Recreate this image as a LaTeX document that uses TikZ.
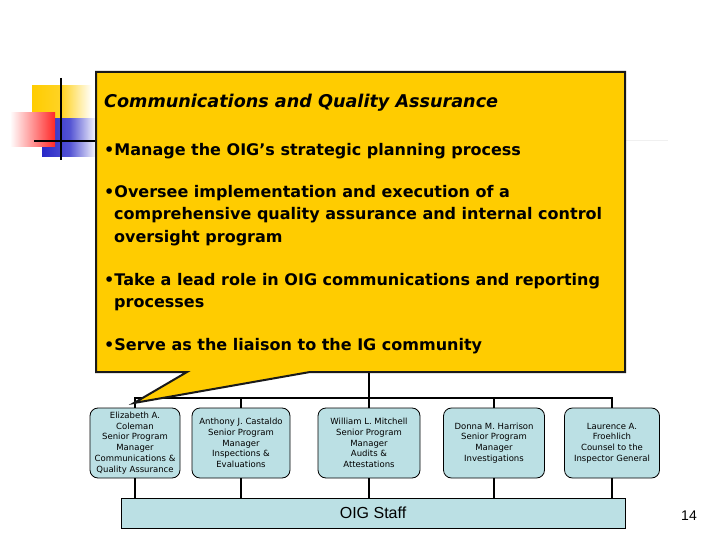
\documentclass[tikz,border=0pt]{standalone}
\usepackage{fontspec}
\setmainfont{DejaVu Sans}
\newfontfamily\arialf{Liberation Sans}
\definecolor{calloutyellow}{RGB}{255,204,0}
\definecolor{boxblue}{RGB}{187,224,228}
\definecolor{decored}{RGB}{255,40,40}
\definecolor{decoblue}{RGB}{40,40,200}
\begin{document}
\begin{tikzpicture}[x=1pt,y=-1pt,
  orgline/.style={line width=2.6pt, black},
  person/.style={draw=black, line width=0.8pt, fill=boxblue, rounded corners=8pt,
    minimum height=70pt, align=center, inner sep=1pt, font=\fontsize{8.5}{10.8}\selectfont},
  bullet/.style={anchor=base west, inner sep=0pt, font=\bfseries\fontsize{16}{22}\selectfont, align=left},
  ]
\useasboundingbox (0,0) rectangle (720,540);
% decoration
\draw[gray!12, line width=1pt] (34,141) -- (668,141);
\shade[left color=calloutyellow, right color=white, middle color=calloutyellow!85] (32,86) rectangle (92,120);
\shade[left color=decoblue, right color=white, middle color=decoblue!80] (42,119) rectangle (97,157);
\shade[left color=white, right color=decored] (10,113) rectangle (55,147);
\draw[black, line width=2pt] (61,78) -- (61,160);
\draw[black, line width=2pt] (34,141) -- (96,141);
% org boxes
\node[person, minimum width=90pt] (cole) at (135,443) {Elizabeth A.\\Coleman\\Senior Program\\Manager\\Communications \&\\Quality Assurance};
\node[person, minimum width=98pt] (cast) at (241,443) {Anthony J. Castaldo\\Senior Program\\Manager\\Inspections \&\\Evaluations};
\node[person, minimum width=102pt] (mitch) at (369,443) {William L. Mitchell\\Senior Program\\Manager\\Audits \&\\Attestations};
\node[person, minimum width=101pt] (harr) at (494,443) {Donna M. Harrison\\Senior Program\\Manager\\Investigations};
\node[person, minimum width=95pt] (froe) at (612,443) {Laurence A.\\Froehlich\\Counsel to the\\Inspector General};
\node[draw=black, line width=0.8pt, fill=boxblue, minimum width=504pt, minimum height=30pt, inner sep=0pt,
  font=\arialf\fontsize{16}{18}\selectfont] (staff) at (373,513) {OIG Staff};
\node[font=\arialf\fontsize{14}{16}\selectfont, inner sep=0pt] (pnum) at (689,516) {14};
% org lines
\coordinate (bus) at (369,398);
\coordinate (sup) at (369,360);
\draw[orgline] (sup) -- (bus);
\draw[orgline] (cole.north) |- (bus);
\draw[orgline] (froe.north) |- (bus);
\draw[orgline] (cast.north) -- (cast.north|-bus);
\draw[orgline] (harr.north) -- (harr.north|-bus);
\draw[orgline] (mitch.north) -- (mitch.north|-bus);
\foreach \b in {cole,cast,mitch,harr,froe}
  \draw[orgline] (\b.south) -- (\b.south|-staff.north);
% callout
\coordinate (tip) at (134,403);
\filldraw[fill=calloutyellow, draw=black!90, line width=2pt, line join=miter]
  (96,72) -- (625,72) -- (625,372) -- (310,372) -- (tip) -- (187,372) -- (96,372) -- cycle;
\node[anchor=base west, inner sep=0pt, font=\bfseries\itshape\fontsize{17.6}{20}\selectfont] (title) at (104,108) {Communications and Quality Assurance};
\node[bullet] (b1) at (104,156) {•Manage the OIG’s strategic planning process};
\node[bullet] (b2) at (104,242) {•Oversee implementation and execution of a\\\hspace*{10pt}comprehensive quality assurance and internal control\\\hspace*{10pt}oversight program};
\node[bullet] (b3) at (104,307) {•Take a lead role in OIG communications and reporting\\\hspace*{10pt}processes};
\node[bullet] (b4) at (104,350) {•Serve as the liaison to the IG community};
\end{tikzpicture}
\end{document}
